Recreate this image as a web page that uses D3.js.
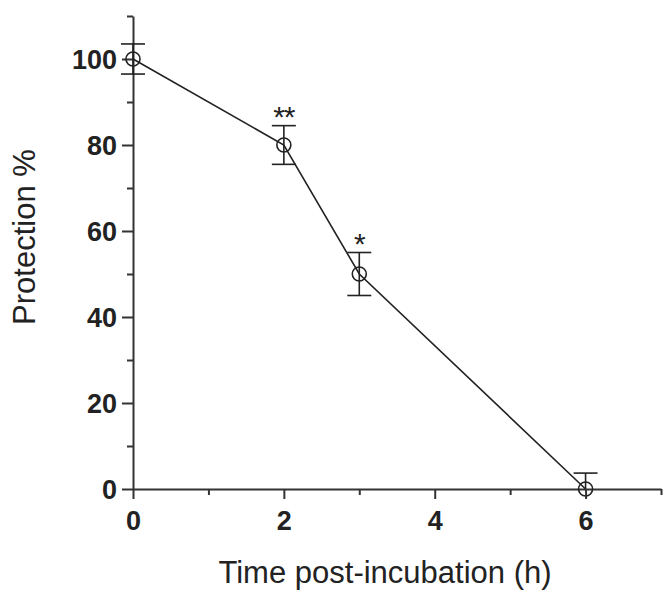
<!DOCTYPE html>
<html>
<head>
<meta charset="utf-8">
<script src="https://cdn.jsdelivr.net/npm/d3@7"></script>
<style>
  body { margin: 0; background: #fff; }
  .axis text { font-family: "Liberation Sans", Arial, sans-serif; font-weight: bold; font-size: 27px; fill: #222; }
  .axis path, .axis line { stroke: #333; stroke-width: 2; }
  .title { font-family: "Liberation Sans", Arial, sans-serif; font-size: 31px; fill: #222; }
</style>
</head>
<body>
<svg id="chart"></svg>
<script>
// data
const times = [0, 2, 3, 6];
const protection = [100, 80, 50, 0];
const errors = [3.5, 4.5, 5, 3.7];
const marks = ['', '**', '*', ''];
const xMajorTicks = [0, 2, 4, 6];
const xMinorTicks = [1, 3, 5, 7];
const yMajorTicks = [0, 20, 40, 60, 80, 100];
const yMinorTicks = [10, 30, 50, 70, 90, 110];

let containerWidth = 663,
    containerHeight = 592;
let margin = { top: 16, right: 2, bottom: 103, left: 133 };
let width = containerWidth - margin.left - margin.right,
    height = containerHeight - margin.top - margin.bottom;

let svg = d3.select('#chart')
  .attr('width', containerWidth)
  .attr('height', containerHeight);

let chart = svg.append('g')
  .attr('transform', `translate(${margin.left}, ${margin.top})`);

let x = d3.scaleLinear().domain([0, 7]).range([0, width]);
let y = d3.scaleLinear().domain([0, 110]).range([height, 0]);

// X axis (major + minor ticks)
chart.append('g')
  .attr('class', 'axis axis-x')
  .attr('transform', `translate(0, ${height})`)
  .call(d3.axisBottom(x).tickValues(xMajorTicks).tickFormat(d3.format('d'))
    .tickSizeInner(10).tickSizeOuter(0).tickPadding(12));

chart.append('g')
  .attr('class', 'axis axis-x-minor')
  .attr('transform', `translate(0, ${height})`)
  .call(d3.axisBottom(x).tickValues(xMinorTicks).tickFormat('')
    .tickSizeInner(6).tickSizeOuter(0))
  .select('.domain').remove();

// Y axis (major + minor ticks)
chart.append('g')
  .attr('class', 'axis axis-y')
  .call(d3.axisLeft(y).tickValues(yMajorTicks)
    .tickSizeInner(11).tickSizeOuter(0).tickPadding(5));

chart.append('g')
  .attr('class', 'axis axis-y-minor')
  .call(d3.axisLeft(y).tickValues(yMinorTicks).tickFormat('')
    .tickSizeInner(6).tickSizeOuter(0))
  .select('.domain').remove();

chart.selectAll('.axis-y text').attr('dy', '0.36em');

let data = times.map((t, i) => ({ time: t, value: protection[i], err: errors[i], mark: marks[i] }));

// line
let line = d3.line()
  .x((d) => x(d.time))
  .y((d) => y(d.value));

chart.append('path')
  .datum(data)
  .attr('fill', 'none')
  .attr('stroke', '#222')
  .attr('stroke-width', 1.6)
  .attr('d', line);

// error bars
let capWidth = 12;
let errGroup = chart.append('g')
  .attr('class', 'error-bars')
  .attr('stroke', '#222')
  .attr('stroke-width', 1.6);

data.forEach((d) => {
  let lo = Math.max(0, d.value - d.err), hi = d.value + d.err;
  errGroup.append('line')
    .attr('x1', x(d.time)).attr('x2', x(d.time))
    .attr('y1', y(lo)).attr('y2', y(hi));
  errGroup.append('line')
    .attr('x1', x(d.time) - capWidth).attr('x2', x(d.time) + capWidth)
    .attr('y1', y(hi)).attr('y2', y(hi));
  if (d.value - d.err > 0) {
    errGroup.append('line')
      .attr('x1', x(d.time) - capWidth).attr('x2', x(d.time) + capWidth)
      .attr('y1', y(lo)).attr('y2', y(lo));
  }
});

// markers
chart.append('g')
    .attr('class', 'dots')
  .selectAll('circle')
    .data(data)
  .enter().append('circle')
    .attr('r', 7)
    .attr('cx', (d) => x(d.time))
    .attr('cy', (d) => y(d.value))
    .attr('fill', 'none')
    .attr('stroke', '#222')
    .attr('stroke-width', 1.6);

// significance marks
chart.append('g')
  .selectAll('text')
  .data(data.filter((d) => d.mark))
  .enter().append('text')
    .attr('x', (d) => x(d.time))
    .attr('y', (d) => y(d.value + d.err) + 1)
    .attr('text-anchor', 'middle')
    .style('font-family', '"Liberation Sans", Arial, sans-serif')
    .style('font-size', '30px')
    .style('fill', '#222')
    .style('letter-spacing', '-1px')
    .text((d) => d.mark);

// axis titles
svg.append('text')
  .attr('class', 'title')
  .attr('x', 385)
  .attr('y', 583)
  .attr('text-anchor', 'middle')
  .text('Time post-incubation (h)');

svg.append('text')
  .attr('class', 'title')
  .attr('transform', 'translate(35, 237) rotate(-90)')
  .attr('text-anchor', 'middle')
  .text('Protection %');
</script>
</body>
</html>
